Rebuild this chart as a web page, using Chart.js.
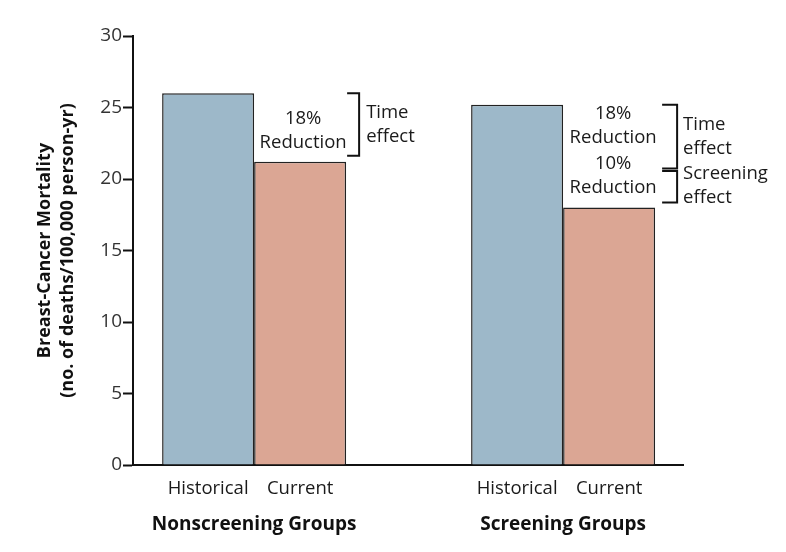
<!DOCTYPE html>
<html>
<head>
<meta charset="utf-8">
<script src="https://cdn.jsdelivr.net/npm/chart.js@4.4.1/dist/chart.umd.min.js"></script>
<style>
html,body{margin:0;padding:0;background:#fff;}
#wrap{width:786px;height:552px;}
</style>
</head>
<body>
<div id="wrap"><canvas id="c" width="786" height="552"></canvas></div>
<script>
// ---- data ----
const groups = ['Nonscreening Groups', 'Screening Groups'];
const groupIndex = [0, 1];
const periods = ['Historical', 'Current'];
const historical = [26.0, 25.2];
const current = [21.2, 18.0];
const yTicks = [0, 5, 10, 15, 20, 25, 30];
const timeEffectPct = [18, 18];
const screeningEffectPct = 10;
const yTitle = ['Breast-Cancer Mortality', '(no. of deaths/100,000 person-yr)'];
const effectLabels = { time: ['Time', 'effect'], screening: ['Screening', 'effect'] };

const FONT = '"Open Sans"';
const blue = '#9db8c9';
const pink = '#dba694';

const annot = {
  id: 'annot',
  afterDraw(chart) {
    const ctx = chart.ctx;
    const y = chart.scales.y;
    const m0 = chart.getDatasetMeta(0).data;
    const m1 = chart.getDatasetMeta(1).data;
    ctx.save();
    ctx.fillStyle = '#1a1a1a';
    ctx.textAlign = 'center';
    ctx.textBaseline = 'middle';
    ctx.font = '18.5px ' + FONT;
    // period sub-labels
    [m0, m1].forEach((meta, k) => {
      meta.forEach(bar => ctx.fillText(periods[k], bar.x, 488.5));
    });

    ctx.strokeStyle = '#111';
    ctx.lineWidth = 2;
    function bracket(x0, x1, yTop, yBot) {
      ctx.beginPath();
      ctx.moveTo(x0, yTop); ctx.lineTo(x1, yTop); ctx.lineTo(x1, yBot); ctx.lineTo(x0, yBot);
      ctx.stroke();
    }
    function leftText(lines, x, yc) {
      ctx.textAlign = 'left';
      ctx.fillText(lines[0], x, yc - 12);
      ctx.fillText(lines[1], x, yc + 12);
    }
    function midText(lines, x, yc) {
      ctx.textAlign = 'center';
      ctx.fillText(lines[0], x, yc - 12);
      ctx.fillText(lines[1], x, yc + 12);
    }
    // Nonscreening
    {
      const b = m1[0];
      const right = b.x + b.width / 2;
      const top = y.getPixelForValue(historical[0]);
      const bot = y.getPixelForValue(current[0]) - 6;
      bracket(right + 1, right + 13, top, bot);
      leftText(effectLabels.time, right + 20, (top + bot) / 2);
      midText([timeEffectPct[0] + '%', 'Reduction'], b.x + 3, (top + bot) / 2 + 6.5);
    }
    // Screening
    {
      const b = m1[1];
      const right = b.x + b.width / 2;
      const top = y.getPixelForValue(historical[1]);
      const midV = historical[1] * (1 - timeEffectPct[1] / 100);
      const mid = y.getPixelForValue(midV);
      const bot = y.getPixelForValue(current[1]) - 5;
      bracket(right + 7, right + 22, top, mid - 1);
      bracket(right + 7, right + 22, mid + 1.5, bot);
      leftText(effectLabels.time, right + 28, (top + mid) / 2);
      leftText(effectLabels.screening, right + 28, (mid + bot) / 2);
      midText([timeEffectPct[1] + '%', 'Reduction'], b.x + 4, (top + mid) / 2 - 11.5);
      midText([screeningEffectPct + '%', 'Reduction'], b.x + 4, (mid + bot) / 2 - 10);
    }
    ctx.restore();
  }
};

new Chart(document.getElementById('c'), {
  type: 'bar',
  data: {
    datasets: [
      { label: periods[0], data: groupIndex.map((g, i) => ({ x: g, y: historical[i] })),
        backgroundColor: blue, borderColor: '#222', borderWidth: 1.5 },
      { label: periods[1], data: groupIndex.map((g, i) => ({ x: g, y: current[i] })),
        backgroundColor: pink, borderColor: '#222', borderWidth: 1.5 }
    ]
  },
  options: {
    responsive: false,
    animation: false,
    events: [],
    layout: { padding: { left: 0, right: 103, top: 36, bottom: 0 } },
    plugins: { legend: { display: false }, tooltip: { enabled: false } },
    datasets: { bar: { barPercentage: 1, categoryPercentage: 0.5955 } },
    scales: {
      x: {
        type: 'linear',
        min: -0.392, max: 1.388,
        offset: false,
        afterBuildTicks(s) { s.ticks = groupIndex.map(v => ({ value: v })); },
        afterFit(s) { s.height = 87; },
        grid: { display: false, drawTicks: false },
        border: { display: true, color: '#111', width: 2 },
        ticks: {
          callback: (v) => groups[v],
          font: { family: FONT, size: 19, weight: 'bold' },
          color: '#111', padding: 48, maxRotation: 0, autoSkip: false
        }
      },
      y: {
        min: 0, max: 30,
        afterBuildTicks(s) { s.ticks = yTicks.map(v => ({ value: v })); },
        afterFit(s) { s.width = 133; },
        grid: { drawOnChartArea: false, drawTicks: true, tickLength: 10, tickColor: '#111', tickWidth: 2 },
        border: { display: true, color: '#111', width: 2 },
        ticks: { font: { family: FONT, size: 19 }, color: '#333', padding: 1 },
        title: {
          display: true, text: yTitle, color: '#111',
          font: { family: FONT, size: 18, weight: 'bold', lineHeight: 1.3 },
          padding: { top: 33, bottom: 0 }
        }
      }
    }
  },
  plugins: [annot]
});
</script>
</body>
</html>
